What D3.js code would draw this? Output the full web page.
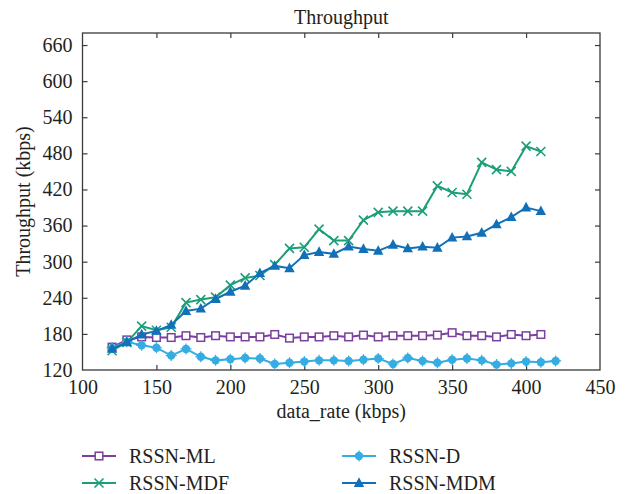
<!DOCTYPE html>
<html>
<head>
<meta charset="utf-8">
<script src="https://cdn.jsdelivr.net/npm/d3@7"></script>
<style>
  body { margin: 0; background: #fff; }
  svg { display: block; }
  svg text { font-family: "Liberation Serif"; }
</style>
</head>
<body>
<svg id="chart" width="627" height="494"></svg>
<script>
// ---- data ----
const xMain = [120,130,140,150,160,170,180,190,200,210,220,230,240,250,260,270,280,290,300,310,320,330,340,350,360,370,380,390,400,410];
const xD    = [120,130,140,150,160,170,180,190,200,210,220,230,240,250,260,270,280,290,300,310,320,330,340,350,360,370,380,390,400,410,420];
const seriesML  = [158,170,175,174,174,177,174,177,175,175,175,179,173,175,175,177,175,178,175,177,177,177,178,182,177,177,175,179,177,179];
const seriesMDF = [152,166,193,186,191,232,237,241,261,273,277,295,322,324,354,335,335,369,382,384,384,384,426,415,412,465,453,450,492,483];
const seriesD   = [157,167,161,157,144,155,142,136,138,140,139,130,132,134,136,136,135,137,139,130,140,135,132,137,139,136,129,131,134,133,135];
const seriesMDM = [155,166,179,185,195,218,222,238,250,260,281,293,289,311,316,313,325,321,318,328,322,325,323,340,342,348,362,374,390,384];
const xTicks = [100,150,200,250,300,350,400,450];
const yTicks = [120,180,240,300,360,420,480,540,600,660];
const names = ["RSSN-ML","RSSN-D","RSSN-MDF","RSSN-MDM"];

const series = [
  {name: names[0], xs: xMain, ys: seriesML,  color: "#7b3f9e", marker: "square"},
  {name: names[1], xs: xD,    ys: seriesD,   color: "#35ade3", marker: "circle"},
  {name: names[2], xs: xMain, ys: seriesMDF, color: "#1c9e78", marker: "cross"},
  {name: names[3], xs: xMain, ys: seriesMDM, color: "#1170b8", marker: "triangle"}
];

const FONT = '"Liberation Serif"';
const FS = "20px";
const TXT = "#231f20";
const svg = d3.select("#chart");
const L = 82.5, R = 600, T = 33, B = 370;
const x = d3.scaleLinear().domain([100,450]).range([L,R]);
const y = d3.scaleLinear().domain([120,680]).range([B,T]);

const axisColor = "#3a3a3a";
const tick = 5;

function txt(sel) { return sel.style("font-family", FONT).style("font-size", FS).attr("fill", TXT); }

// axes
const gx = svg.append("g").attr("transform", `translate(0,${B})`)
  .call(d3.axisBottom(x).tickValues(xTicks).tickSizeInner(-tick).tickSizeOuter(0).tickPadding(10));
const gxTop = svg.append("g").attr("transform", `translate(0,${T})`)
  .call(d3.axisTop(x).tickValues(xTicks).tickSizeInner(-tick).tickSizeOuter(0).tickFormat(""));
const gy = svg.append("g").attr("transform", `translate(${L},0)`)
  .call(d3.axisLeft(y).tickValues(yTicks).tickSizeInner(-tick).tickSizeOuter(0).tickPadding(10));
const gyR = svg.append("g").attr("transform", `translate(${R},0)`)
  .call(d3.axisRight(y).tickValues(yTicks).tickSizeInner(-tick).tickSizeOuter(0).tickFormat(""));
[gx,gxTop,gy,gyR].forEach(g => {
  g.attr("font-family", null).attr("font-size", null);
  g.select(".domain").remove();
  g.selectAll(".tick line").attr("stroke", axisColor).attr("stroke-width", 1.2);
  txt(g.selectAll(".tick text"));
});
gx.selectAll(".tick").filter(d => d === 100 || d === 450).select("line").remove();
gxTop.selectAll(".tick").filter(d => d === 100 || d === 450).select("line").remove();
gy.selectAll(".tick").filter(d => d === 120).select("line").remove();
gyR.selectAll(".tick").filter(d => d === 120).select("line").remove();

svg.append("rect").attr("x", L).attr("y", T).attr("width", R-L).attr("height", B-T)
  .attr("fill", "none").attr("stroke", axisColor).attr("stroke-width", 1.3);

// titles
txt(svg.append("text")).attr("x", (L+R)/2).attr("y", 24).attr("text-anchor","middle").text("Throughput");
txt(svg.append("text")).attr("x", (L+R)/2).attr("y", 418).attr("text-anchor","middle").text("data_rate (kbps)");
txt(svg.append("text")).attr("transform", `translate(30,${(T+B)/2}) rotate(-90)`).attr("text-anchor","middle")
  .text("Throughput (kbps)");

function drawMarker(g, type, cx, cy, color) {
  if (type === "square") {
    g.append("rect").attr("x", cx-3.8).attr("y", cy-3.8).attr("width", 7.6).attr("height", 7.6)
      .attr("fill", "#fff").attr("stroke", color).attr("stroke-width", 1.5);
  } else if (type === "circle") {
    g.append("circle").attr("cx", cx).attr("cy", cy).attr("r", 4.2).attr("fill", color);
    const s = 5.5;
    g.append("path").attr("d", `M${cx-s},${cy}L${cx+s},${cy}M${cx},${cy-s}L${cx},${cy+s}`)
      .attr("stroke", color).attr("stroke-width", 1.2).attr("fill","none");
  } else if (type === "cross") {
    const s = 4.5;
    g.append("path").attr("d", `M${cx-s},${cy-s}L${cx+s},${cy+s}M${cx-s},${cy+s}L${cx+s},${cy-s}`)
      .attr("stroke", color).attr("stroke-width", 1.6).attr("fill","none");
  } else if (type === "triangle") {
    const s = 5.2;
    g.append("path").attr("d", `M${cx},${cy-s*1.1}L${cx+s},${cy+s*0.75}L${cx-s},${cy+s*0.75}Z`)
      .attr("fill", color);
  }
}

const line = d3.line().x(d => x(d[0])).y(d => y(d[1]));
series.forEach(s => {
  const g = svg.append("g");
  const pts = s.xs.map((v,i) => [v, s.ys[i]]);
  g.append("path").datum(pts).attr("d", line).attr("fill","none")
    .attr("stroke", s.color).attr("stroke-width", 2);
  pts.forEach(p => drawMarker(g, s.marker, x(p[0]), y(p[1]), s.color));
});

// legend
const legendPos = [
  {s: series[0], lx: 82, ly: 456},
  {s: series[1], lx: 342, ly: 456},
  {s: series[2], lx: 82, ly: 483},
  {s: series[3], lx: 342, ly: 483}
];
legendPos.forEach(p => {
  const g = svg.append("g");
  g.append("line").attr("x1", p.lx).attr("x2", p.lx+34).attr("y1", p.ly).attr("y2", p.ly)
    .attr("stroke", p.s.color).attr("stroke-width", 2);
  drawMarker(g, p.s.marker, p.lx+17, p.ly, p.s.color);
  txt(g.append("text")).attr("x", p.lx+47).attr("y", p.ly+7).text(p.s.name);
});
</script>
</body>
</html>
